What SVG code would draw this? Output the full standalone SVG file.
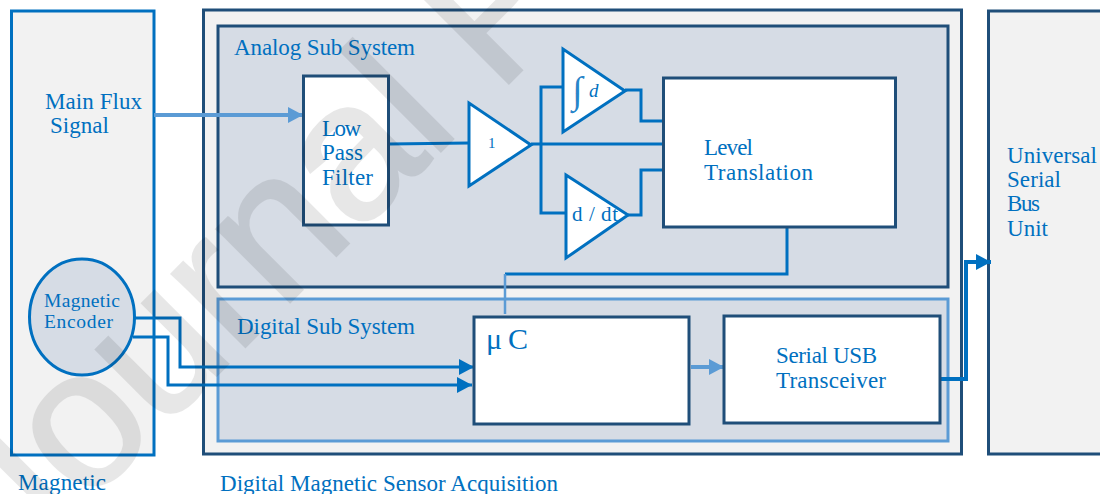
<svg xmlns="http://www.w3.org/2000/svg" width="1100" height="494" viewBox="0 0 1100 494">
<style>
.t{font-family:"Liberation Serif","DejaVu Serif",serif;fill:#0070c0;font-size:23px}
.dk{stroke:#1f4e79;stroke-width:3}
.bl{stroke:#0070c0;stroke-width:3}
.lb{stroke:#5b9bd5;stroke-width:3}
.w{fill:#fff}.g{fill:#f2f2f2}.s{fill:#d6dce5}
.c{fill:none;stroke:#0070c0;stroke-width:3}
.wm{font-family:"Liberation Sans",Arial,sans-serif;font-size:196px;letter-spacing:-2.2px;fill:#000;stroke:#000;stroke-width:2.500;opacity:.09}
</style>
<defs>
<marker id="ab" markerUnits="userSpaceOnUse" markerWidth="16" markerHeight="16" refX="15" refY="8" orient="auto"><path d="M0 0L15 8L0 16Z" fill="#0070c0"/></marker>
<marker id="al" markerUnits="userSpaceOnUse" markerWidth="16" markerHeight="16" refX="15" refY="8" orient="auto"><path d="M0 0L15 8L0 16Z" fill="#5b9bd5"/></marker>
</defs>
<rect width="1100" height="494" fill="#fff"/>
<g id="magnetic"><rect x="11.500" y="11" width="142.500" height="444" class="g bl"/>
<text class="t" x="45" y="109" textLength="97">Main Flux</text><text class="t" x="50" y="133" textLength="59">Signal</text>
<text class="t" x="18" y="490" textLength="88">Magnetic</text></g>
<g id="acquisition"><rect x="203.500" y="10" width="758" height="444" class="g dk"/>
<text class="t" x="220" y="491" textLength="338">Digital Magnetic Sensor Acquisition</text></g>
<g id="analog"><rect x="218" y="26" width="730" height="261" class="s dk"/>
<text class="t" x="234" y="55" textLength="181">Analog Sub System</text></g>
<g id="digital"><rect x="218" y="299" width="730" height="142" class="s lb"/>
<text class="t" x="237" y="334" textLength="178">Digital Sub System</text></g>
<g id="usb"><rect x="988.500" y="11" width="130" height="443" class="g dk"/>
<text class="t" x="1007" y="163" textLength="90">Universal</text><text class="t" x="1007" y="187" textLength="54">Serial</text><text class="t" x="1007" y="211" textLength="33">Bus</text><text class="t" x="1007" y="236" textLength="41">Unit</text></g>
<g id="connectors">
<path class="c" d="M389 144L469 143M531 144L663 144M541 144V87H563M541 144V213H566M625 90H641V121H663M628 215H641V170H663"/>
<path class="c" d="M787 227V274H505"/>
<path d="M505 274V314" fill="none" stroke="#5b9bd5" stroke-width="2.500"/>
<path class="c" marker-end="url(#ab)" d="M135 318H180V367H474"/>
<path class="c" marker-end="url(#ab)" d="M133 337H168V385H472"/>
<path fill="none" stroke="#5b9bd5" stroke-width="4" marker-end="url(#al)" d="M154 115H303"/>
<path fill="none" stroke="#5b9bd5" stroke-width="4" marker-end="url(#al)" d="M691 367H724"/>
<path fill="none" stroke="#0070c0" stroke-width="4" marker-end="url(#ab)" d="M940 379H966V262H991"/>
</g>
<g id="encoder"><ellipse cx="82" cy="317" rx="52.500" ry="58" class="s bl"/>
<text class="t" x="44" y="307" style="font-size:19.500px" textLength="76">Magnetic</text><text class="t" x="44" y="328" style="font-size:19.500px" textLength="69">Encoder</text></g>
<g id="lpf"><rect x="303.500" y="76" width="85" height="149" class="w dk"/>
<text class="t" x="322" y="136" textLength="39">Low</text><text class="t" x="322" y="160" textLength="41">Pass</text><text class="t" x="322" y="185" textLength="51">Filter</text></g>
<g id="buffer"><path d="M469 103V186L531 145Z" class="w bl"/><text class="t" x="488" y="148" style="font-size:15px">1</text></g>
<g id="integrator"><path d="M563 49V132L625 91Z" class="w bl"/><text class="t" x="572" y="103" style="font-size:38px;fill-opacity:.85">∫</text><text class="t" x="589" y="97" style="font-style:italic;font-size:19px">d</text></g>
<g id="derivative"><path d="M566 175V258L628 215Z" class="w bl"/><text class="t" x="572" y="221" style="font-size:21px" textLength="46">d / dt</text></g>
<g id="level"><rect x="663.500" y="78" width="232" height="149" class="w dk"/>
<text class="t" x="704" y="155" textLength="49">Level</text><text class="t" x="704" y="180" textLength="109">Translation</text></g>
<g id="uc"><rect x="474" y="317" width="215" height="107" class="w dk"/>
<text class="t" x="486" y="349" style="font-size:30px" textLength="42">μ C</text></g>
<g id="serial"><rect x="724" y="316" width="216" height="107" class="w dk"/>
<text class="t" x="776" y="363" textLength="101">Serial USB</text><text class="t" x="776" y="388" textLength="110">Transceiver</text></g>
<text class="wm" transform="translate(17 575) rotate(-45)">Journal P</text>
</svg>
